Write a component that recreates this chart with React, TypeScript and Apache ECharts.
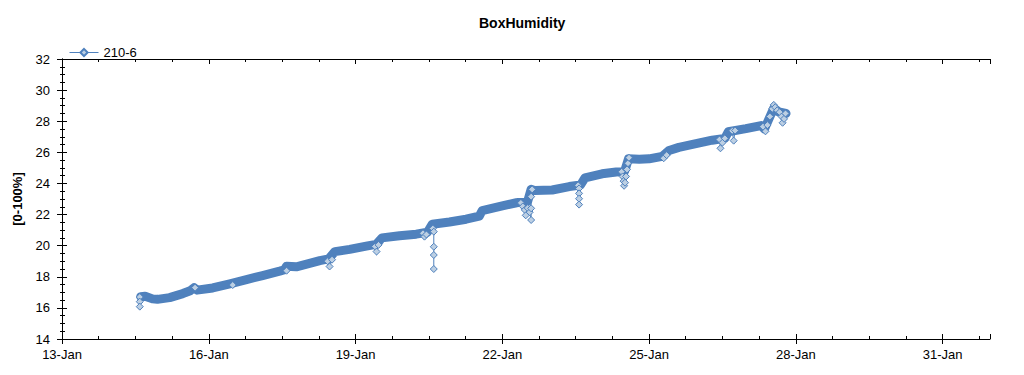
import React, { useEffect, useRef } from 'react';
import * as echarts from 'echarts';

// x values are days since 13-Jan 00:00
const xTickDays = [0, 3, 6, 9, 12, 15, 18];
const xTickLabels = ['13-Jan', '16-Jan', '19-Jan', '22-Jan', '25-Jan', '28-Jan', '31-Jan'];

// dense main trend (drawn as a thick band)
const bandDays = [
  1.61, 1.7, 1.85, 1.95, 2.2, 2.47, 2.62, 2.7, 2.76, 3.08, 3.43, 3.77, 4.1, 4.45, 4.55, 4.59,
  4.79, 5.06, 5.27, 5.45, 5.58, 5.88, 6.22, 6.42, 6.54, 6.9, 7.24, 7.47, 7.57, 7.92, 8.26, 8.53,
  8.59, 9.0, 9.29, 9.52, 9.59, 9.66, 10.02, 10.37, 10.6, 10.69, 11.04, 11.33, 11.5, 11.58, 11.8,
  12.0, 12.27, 12.41, 12.61, 12.96, 13.29, 13.55, 13.62, 13.98, 14.29, 14.36, 14.43, 14.55,
  14.65, 14.8,
];
const bandValues = [
  16.72, 16.75, 16.58, 16.55, 16.66, 16.92, 17.1, 17.3, 17.14, 17.28, 17.55, 17.82, 18.08, 18.36,
  18.45, 18.68, 18.64, 18.86, 19.04, 19.15, 19.62, 19.76, 19.97, 20.08, 20.5, 20.64, 20.74, 20.86,
  21.38, 21.52, 21.7, 21.9, 22.26, 22.56, 22.76, 22.86, 23.62, 23.55, 23.58, 23.8, 23.9, 24.36,
  24.62, 24.74, 24.78, 25.58, 25.56, 25.58, 25.74, 26.12, 26.32, 26.56, 26.78, 26.9, 27.32, 27.52,
  27.72, 27.5, 28.0, 28.85, 28.6, 28.5,
];

// individual readings that stand out of the band (null = gap)
const spikeDays = [
  1.59, 1.59, 1.59, 1.59,
  2.72, 2.72,
  3.49, 3.49,
  4.59, 4.59,
  5.43, 5.47, 5.52, 5.52,
  6.4, 6.43, 6.47, 6.47,
  7.38, 7.41, 7.45, 7.45,
  7.58, 7.6, 7.6, 7.6, 7.6, 7.6,
  9.38, 9.42, 9.46, 9.48, 9.52, 9.56, 9.59, 9.59, 9.59, 9.61, 9.61,
  10.55, 10.57, 10.57, 10.57, 10.57, 10.57,
  11.44, 11.46, 11.48, 11.49, 11.51, 11.53, 11.55, 11.57, 11.59, 11.59,
  12.3, 12.36, 12.36,
  13.44, 13.46, 13.5, 13.55, 13.55,
  13.7, 13.73, 13.76, 13.76,
  14.33, 14.38, 14.42, 14.47, 14.52, 14.55, 14.58, 14.62, 14.67, 14.71, 14.73, 14.76, 14.79,
];
const spikeValues = [
  16.7, 16.4, 16.08, null,
  17.3, null,
  17.47, null,
  18.39, null,
  19.0, 18.66, 19.1, null,
  19.95, 19.62, 20.05, null,
  20.8, 20.58, 20.72, null,
  21.1, 20.9, 19.93, 19.4, 18.5, null,
  22.75, 22.52, 22.3, 21.95, 22.42, 22.15, 21.65, 22.4, 23.15, 23.62, null,
  23.88, 23.68, 23.36, 23.02, 22.64, null,
  24.75, 24.45, 24.15, 23.85, 24.05, 24.45, 24.9, 25.3, 25.65, null,
  25.62, 25.82, null,
  26.82, 26.26, 26.62, 26.9, null,
  27.38, 26.75, 27.4, null,
  27.65, 27.35, 27.75, 28.3, 28.8, 29.05, 28.9, 28.7, 28.58, 28.3, 27.9, 28.15, 28.5,
];

const X_MIN = 0;
const X_MAX = 18.97;
const Y_MIN = 14;
const Y_MAX = 32;

const FONT = 'Liberation Sans, Arial, sans-serif';
const BLUE = '#4f81bd';

const gridRect = { left: 62, right: 34, top: 59, bottom: 36 };

function xAx(gridIndex: number, position: string, interval: number, tick: any, extra: any = {}) {
  return {
    type: 'value',
    gridIndex,
    position,
    min: X_MIN,
    max: X_MAX,
    interval,
    axisLine: { show: false, lineStyle: { color: '#000', width: 1 } },
    axisTick: { show: true, lineStyle: { color: '#000', width: 1 }, ...tick },
    axisLabel: { show: false },
    splitLine: { show: false },
    ...extra,
  };
}
function yAx(gridIndex: number, position: string, interval: number, tick: any, extra: any = {}) {
  return {
    type: 'value',
    gridIndex,
    position,
    min: Y_MIN,
    max: Y_MAX,
    interval,
    axisLine: { show: false, lineStyle: { color: '#000', width: 1 } },
    axisTick: { show: true, lineStyle: { color: '#000', width: 1 }, ...tick },
    axisLabel: { show: false },
    splitLine: { show: false },
    ...extra,
  };
}

export default function App() {
  const ref = useRef<HTMLDivElement>(null);
  useEffect(() => {
    document.body.style.margin = '0';
    if (!ref.current) return;
    const chart = echarts.init(ref.current, null, { renderer: 'svg' });
    const band = bandDays.map((d, i) => [d, bandValues[i]]);
    const spikes = spikeDays.map((d, i) => [d, spikeValues[i]]);
    chart.setOption({
      animation: false,
      backgroundColor: '#fff',
      title: {
        text: 'BoxHumidity',
        left: 474,
        top: 11,
        textStyle: { fontFamily: FONT, fontSize: 14, fontWeight: 'bold', color: '#000' },
      },
      legend: {
        data: ['210-6'],
        left: 64,
        top: 41,
        itemWidth: 29,
        itemHeight: 9,
        lineStyle: { width: 1 },
        textStyle: { fontFamily: FONT, fontSize: 13, color: '#000' },
      },
      grid: [
        { ...gridRect },
        { ...gridRect },
        { ...gridRect },
        { ...gridRect },
      ],
      xAxis: [
        xAx(0, 'bottom', 3, { inside: false, length: 5, customValues: xTickDays }, {
          axisLine: { show: true, lineStyle: { color: '#000', width: 1 } },
          axisLabel: {
            show: true,
            margin: 9,
            fontFamily: FONT,
            fontSize: 13,
            color: '#000',
            formatter: (v: number) => {
              const i = xTickDays.findIndex((t) => Math.abs(t - v) < 1e-6);
              return i >= 0 ? xTickLabels[i] : '';
            },
          },
        }),
        xAx(0, 'top', 3, { inside: true, length: 5 }, {
          axisLine: { show: true, lineStyle: { color: '#000', width: 1 } },
        }),
        xAx(1, 'bottom', 3, { inside: true, length: 5 }),
        xAx(1, 'top', 0.75, { inside: true, length: 3 }),
        xAx(2, 'bottom', 0.75, { inside: true, length: 3 }),
        xAx(3, 'bottom', 3, { show: false }),
      ],
      yAxis: [
        yAx(0, 'left', 2, { inside: false, length: 5 }, {
          axisLine: { show: true, lineStyle: { color: '#000', width: 1 } },
          axisLabel: { show: true, margin: 12, fontFamily: FONT, fontSize: 13, color: '#000' },
          name: '[0-100%]',
          nameLocation: 'middle',
          nameGap: 38,
          nameRotate: 90,
          nameTextStyle: { fontFamily: FONT, fontSize: 13, fontWeight: 'bold', color: '#000' },
        }),
        yAx(0, 'right', 2, { inside: true, length: 4 }, {
          axisLine: { show: true, lineStyle: { color: '#000', width: 1 } },
        }),
        yAx(1, 'left', 2, { inside: true, length: 5 }),
        yAx(1, 'right', 0.5, { inside: true, length: 2 }),
        yAx(2, 'left', 0.5, { inside: true, length: 3 }),
        yAx(3, 'left', 0.5, { inside: false, length: 2 }),
      ],
      series: [
        {
          name: 'band',
          type: 'line',
          xAxisIndex: 0,
          yAxisIndex: 0,
          data: band,
          symbol: 'none',
          showSymbol: false,
          silent: true,
          z: 2,
          lineStyle: { color: BLUE, width: 9, cap: 'round', join: 'round' },
        },
        {
          name: '210-6',
          type: 'line',
          xAxisIndex: 0,
          yAxisIndex: 0,
          data: spikes,
          symbol: 'diamond',
          symbolSize: 7,
          showSymbol: true,
          showAllSymbol: true,
          connectNulls: false,
          z: 3,
          itemStyle: { color: '#bccfe3', borderColor: BLUE, borderWidth: 1 },
          lineStyle: { color: BLUE, width: 1 },
        },
      ],
    });
    return () => chart.dispose();
  }, []);
  return <div ref={ref} style={{ width: 1024, height: 375 }} />;
}
